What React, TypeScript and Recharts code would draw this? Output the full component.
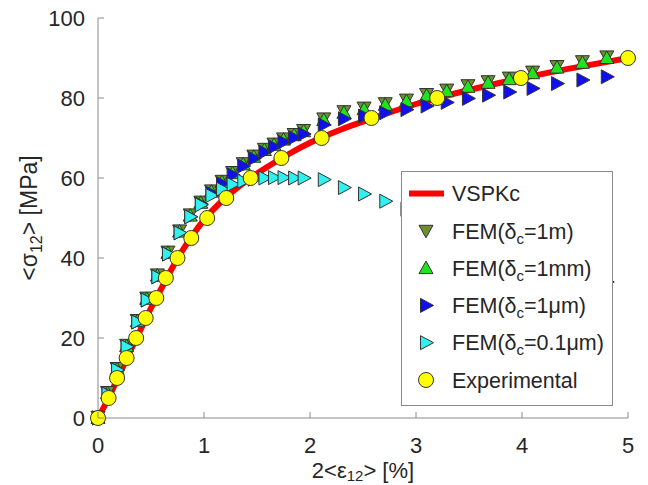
import React from 'react';
import { ComposedChart, Line, Scatter, XAxis, YAxis, Legend } from 'recharts';

// ---------- data ----------
const xTicks = [0, 1, 2, 3, 4, 5];
const yTicks = [0, 20, 40, 60, 80, 100];

const vspkcStrain = [0, 0.1, 0.2, 0.3, 0.4, 0.5, 0.6, 0.7, 0.8, 0.9, 1.0, 1.2, 1.4, 1.6, 1.8, 2.0, 2.3, 2.6, 3.0, 3.5, 4.0, 4.5, 5.0];
const vspkcStress = [0, 5, 10.8, 16.5, 22, 27.5, 32.5, 37.5, 42, 46, 49.5, 55, 59.3, 62.8, 66, 68.8, 72.2, 75, 78.5, 82, 85, 87.6, 90];

const expStrain = [0, 0.1, 0.18, 0.27, 0.36, 0.45, 0.55, 0.64, 0.75, 0.88, 1.03, 1.21, 1.44, 1.73, 2.11, 2.58, 3.2, 3.99, 5.0];
const expStress = [0, 5, 10, 15, 20, 25, 30, 35, 40, 45, 50, 55, 60, 65, 70, 75, 80, 85, 90];

const femStrain = [0, 0.09, 0.18, 0.27, 0.37, 0.46, 0.56, 0.66, 0.77, 0.87, 0.97, 1.07, 1.17, 1.27, 1.37, 1.47, 1.57, 1.66, 1.75, 1.85, 1.94, 2.13, 2.32, 2.51, 2.71, 2.91, 3.10, 3.29, 3.49, 3.68, 3.88, 4.10, 4.33, 4.57, 4.80];
const fem1m = [0.3, 6.5, 12.5, 18.3, 24.5, 30.1, 35.9, 41.6, 46.9, 50.9, 54.1, 56.9, 59.3, 61.5, 63.7, 65.6, 67.3, 68.6, 69.9, 71, 72, 74.9, 76.7, 77.6, 78.7, 79.6, 81, 82.1, 83.2, 84.2, 85.1, 86.6, 88, 89.2, 90.4];
const fem1mm = [0, 6.2, 12.2, 18, 24.2, 29.8, 35.6, 41.3, 46.6, 50.6, 53.8, 56.6, 59, 61.2, 63.4, 65.3, 67, 68.3, 69.6, 70.7, 71.7, 74.5, 76.3, 77.2, 78.3, 79.2, 80.6, 81.7, 82.8, 83.8, 84.7, 86.2, 87.6, 88.8, 90];
const fem1um = [0, 6, 12, 17.8, 24, 29.5, 35.3, 41, 46.3, 50.3, 53.5, 56.2, 58.6, 60.8, 63, 64.9, 66.5, 67.8, 69, 70.1, 71, 73.3, 74.8, 75.5, 76.3, 77.1, 78, 78.9, 79.9, 80.7, 81.5, 82.4, 83.6, 84.5, 85.3];
const fem01um = [0, 6, 12, 17.8, 24, 29.5, 35.3, 41, 46.3, 50.3, 53.3, 55.6, 57.2, 58.4, 59.2, 59.7, 60, 60.1, 60.1, 60, 60, 59.6, 57.6, 56, 54.2, 52.2, 50.2, 48.2, 46.2, 44.2, 42.2, 40, 38, 36, 34];

const pair = (xs: number[], ys: number[]) => xs.map((x, i) => ({ x, y: ys[i] }));

const vspkcData = pair(vspkcStrain, vspkcStress);
const expData = pair(expStrain, expStress);
const d1m = pair(femStrain, fem1m);
const d1mm = pair(femStrain, fem1mm);
const d1um = pair(femStrain, fem1um);
const d01um = pair(femStrain, fem01um);

// ---------- style ----------
const W = 648;
const H = 485;
const FONT = '"Liberation Sans", Arial, Helvetica, sans-serif';
const AXIS = '#8a8a8a';
const TEXT = '#262626';
const EDGE = '#333333';
const C_OLIVE = '#6f8f2e';
const C_GREEN = '#1ee41e';
const C_BLUE = '#1010ee';
const C_CYAN = '#30f0f0';
const C_YELLOW = '#ffff00';
const C_RED = '#ff0000';

const XM = 19; // bottom tick label margin
const YM = 13; // left tick label margin
const TL = 6; // tick length

type Dir = 'up' | 'down' | 'right';
const triPoints = (dir: Dir, cx: number, cy: number) => {
  if (dir === 'up') return `${cx},${cy - 7} ${cx - 7},${cy + 5.5} ${cx + 7},${cy + 5.5}`;
  if (dir === 'down') return `${cx},${cy + 7} ${cx - 7},${cy - 5.5} ${cx + 7},${cy - 5.5}`;
  return `${cx + 7.5},${cy} ${cx - 5.5},${cy - 7} ${cx - 5.5},${cy + 7}`;
};

const triShape = (dir: Dir, fill: string) => (props: any) => {
  const { cx, cy } = props;
  if (cx == null || cy == null) return <g />;
  return <polygon points={triPoints(dir, cx, cy)} fill={fill} stroke={EDGE} strokeWidth={1} />;
};

const circleShape = (props: any) => {
  const { cx, cy } = props;
  if (cx == null || cy == null) return <g />;
  return <circle cx={cx} cy={cy} r={7.5} fill={C_YELLOW} stroke={EDGE} strokeWidth={1} />;
};

const BottomTick = (props: any) => {
  const { x, y, payload } = props;
  const axisY = y - XM;
  return (
    <g>
      <line x1={x} x2={x} y1={axisY} y2={axisY - TL} stroke={AXIS} />
      <text x={x} y={y} dy="0.71em" textAnchor="middle" fontSize={22} fill={TEXT} fontFamily={FONT}>
        {payload.value}
      </text>
    </g>
  );
};

const LeftTick = (props: any) => {
  const { x, y, payload } = props;
  const axisX = x + YM;
  return (
    <g>
      <line x1={axisX} x2={axisX + TL} y1={y} y2={y} stroke={AXIS} />
      <text x={x} y={y} dy="0.355em" textAnchor="end" fontSize={22} fill={TEXT} fontFamily={FONT}>
        {payload.value}
      </text>
    </g>
  );
};

const TopTick = (props: any) => {
  const { x, y } = props;
  return <line x1={x} x2={x} y1={y} y2={y + TL} stroke={AXIS} />;
};

const RightTick = (props: any) => {
  const { x, y } = props;
  return <line x1={x} x2={x - TL} y1={y} y2={y} stroke={AXIS} />;
};

const YLabel = (props: any) => {
  const vb = props.viewBox || { x: 0, y: 18, width: 98, height: 400 };
  const cx = vb.x + 37;
  const cy = vb.y + vb.height / 2;
  return (
    <text x={cx} y={cy} transform={`rotate(-90, ${cx}, ${cy})`} textAnchor="middle" fontSize={23} fill={TEXT} fontFamily={FONT}>
      <tspan>{'<σ'}</tspan>
      <tspan dy={5} fontSize={16}>12</tspan>
      <tspan dy={-5}>{'> [MPa]'}</tspan>
    </text>
  );
};

const XLabel = (props: any) => {
  const vb = props.viewBox || { x: 98, y: 418, width: 530, height: 67 };
  const cx = vb.x + vb.width / 2;
  const cy = vb.y + 60;
  return (
    <text x={cx} y={cy} textAnchor="middle" fontSize={22} fill={TEXT} fontFamily={FONT}>
      <tspan>{'2<ε'}</tspan>
      <tspan dy={3} fontSize={15}>12</tspan>
      <tspan dy={-3}>{'> [%]'}</tspan>
    </text>
  );
};

const legendEntries: { kind: string; fill: string; main: string; sub?: string; tail?: string }[] = [
  { kind: 'line', fill: C_RED, main: 'VSPKc' },
  { kind: 'down', fill: C_OLIVE, main: 'FEM(δ', sub: 'c', tail: '=1m)' },
  { kind: 'up', fill: C_GREEN, main: 'FEM(δ', sub: 'c', tail: '=1mm)' },
  { kind: 'right', fill: C_BLUE, main: 'FEM(δ', sub: 'c', tail: '=1μm)' },
  { kind: 'right', fill: C_CYAN, main: 'FEM(δ', sub: 'c', tail: '=0.1μm)' },
  { kind: 'circle', fill: C_YELLOW, main: 'Experimental' },
];

const LegendBox = () => {
  const w = 212;
  const h = 235;
  return (
    <svg width={w} height={h} style={{ display: 'block' }}>
      <rect x={0.5} y={0.5} width={w - 1} height={h - 1} fill="#ffffff" stroke={AXIS} strokeWidth={1} />
      {legendEntries.map((e, i) => {
        const cy = 22.5 + i * 37.3;
        const cx = 25;
        let icon: any;
        if (e.kind === 'line') icon = <line x1={8} x2={43} y1={cy} y2={cy} stroke={e.fill} strokeWidth={6} />;
        else if (e.kind === 'circle') icon = <circle cx={cx} cy={cy} r={7.5} fill={e.fill} stroke={EDGE} />;
        else icon = <polygon points={triPoints(e.kind as Dir, cx, cy)} fill={e.fill} stroke={EDGE} />;
        return (
          <g key={i}>
            {icon}
            <text x={51} y={cy} dy="0.36em" fontSize={21.5} fill={TEXT} fontFamily={FONT}>
              <tspan>{e.main}</tspan>
              {e.sub ? <tspan dy={5} fontSize={15}>{e.sub}</tspan> : null}
              {e.tail ? <tspan dy={-5}>{e.tail}</tspan> : null}
            </text>
          </g>
        );
      })}
    </svg>
  );
};

export default function App() {
  return (
    <div style={{ position: 'absolute', left: 0, top: 0, width: W, height: H, background: '#ffffff' }}>
      <ComposedChart width={W} height={H} margin={{ top: 18, right: 20, left: 0, bottom: 0 }}>
        <XAxis
          dataKey="x"
          type="number"
          domain={[0, 5]}
          ticks={xTicks}
          height={67}
          stroke={AXIS}
          tickSize={0}
          tickMargin={XM}
          tick={<BottomTick />}
          tickLine={false}
          label={<XLabel />}
        />
        <XAxis
          xAxisId="top"
          orientation="top"
          type="number"
          domain={[0, 5]}
          ticks={xTicks}
          allowDataOverflow
          height={0}
          stroke={AXIS}
          tickSize={0}
          tickMargin={0}
          tick={<TopTick />}
          tickLine={false}
        />
        <YAxis
          type="number"
          domain={[0, 100]}
          ticks={yTicks}
          width={98}
          stroke={AXIS}
          tickSize={0}
          tickMargin={YM}
          tick={<LeftTick />}
          tickLine={false}
          label={<YLabel />}
        />
        <YAxis
          yAxisId="right"
          orientation="right"
          type="number"
          domain={[0, 100]}
          ticks={yTicks}
          allowDataOverflow
          width={0}
          stroke={AXIS}
          tickSize={0}
          tickMargin={0}
          tick={<RightTick />}
          tickLine={false}
        />
        <Line
          data={vspkcData}
          dataKey="y"
          type="monotone"
          stroke={C_RED}
          strokeWidth={6}
          dot={false}
          activeDot={false}
          isAnimationActive={false}
          legendType="none"
        />
        <Scatter data={d1m} dataKey="y" shape={triShape('down', C_OLIVE)} isAnimationActive={false} />
        <Scatter data={d1mm} dataKey="y" shape={triShape('up', C_GREEN)} isAnimationActive={false} />
        <Scatter data={d1um} dataKey="y" shape={triShape('right', C_BLUE)} isAnimationActive={false} />
        <Scatter data={d01um} dataKey="y" shape={triShape('right', C_CYAN)} isAnimationActive={false} />
        <Scatter data={expData} dataKey="y" shape={circleShape} isAnimationActive={false} />
        <Legend
          layout="vertical"
          align="center"
          verticalAlign="middle"
          wrapperStyle={{ left: 401, top: 171, width: 212, height: 235 }}
          content={() => <LegendBox />}
        />
      </ComposedChart>
    </div>
  );
}
